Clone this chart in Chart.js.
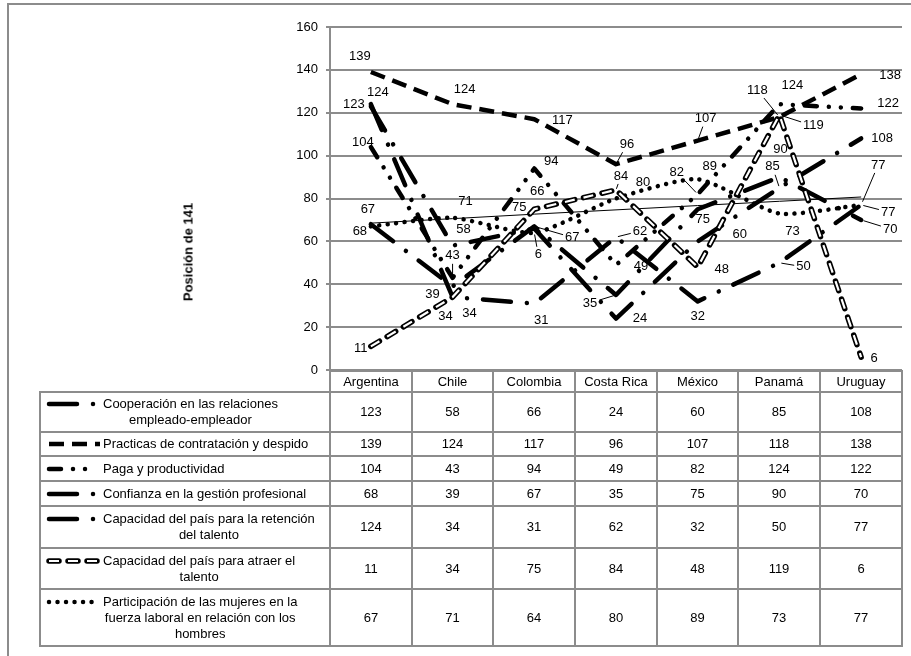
<!DOCTYPE html>
<html lang="es">
<head>
<meta charset="UTF-8" />
<title>Posición de 141</title>
<script src="https://cdn.jsdelivr.net/npm/chart.js@4.4.0/dist/chart.umd.min.js"></script>
<style>
  body {
    margin: 0;
    width: 911px;
    height: 656px;
    overflow: hidden;
    background: #fff;
    font-family: "Liberation Sans", Arial, sans-serif;
    font-size: 13px;
    color: #000;
  }
  .frame {
    position: absolute;
    left: 7px;
    top: 3px;
    width: 1000px;
    height: 1000px;
    border: 2px solid #8c8c8c;
  }
  #chart {
    position: absolute;
    left: 0;
    top: 0;
  }
  .ytitle {
    position: absolute;
    left: 188px;
    top: 252px;
    transform: translate(-50%, -50%) rotate(-90deg);
    font-weight: bold;
    white-space: nowrap;
  }
  #tbl {
    position: absolute;
    left: 39px;
    top: 370px;
    border-collapse: collapse;
    table-layout: fixed;
  }
  #tbl td {
    border: 2px solid #8c8c8c;
    text-align: center;
    vertical-align: middle;
    padding: 0;
    line-height: 16px;
    background: #fff;
  }
  #tbl td.blank {
    border-style: none;
    background: transparent;
  }
  #tbl td.key {
    text-align: left;
    padding-left: 5px;
  }
  .key-wrap {
    display: flex;
    align-items: flex-start;
  }
  .key-wrap canvas {
    flex: none;
  }
  .key-wrap span {
    display: inline-block;
    margin-left: 3px;
    text-align: center;
    white-space: pre-line;
  }
</style>
</head>
<body>
<div class="frame"></div>
<canvas id="chart" width="911" height="390"></canvas>
<div class="ytitle">Posición de 141</div>
<table id="tbl"></table>

<script>
  const categories = ['Argentina', 'Chile', 'Colombia', 'Costa Rica', 'México', 'Panamá', 'Uruguay'];
  const seriesNames = [
    'Cooperación en las relaciones\nempleado-empleador',
    'Practicas de contratación y despido',
    'Paga y productividad',
    'Confianza en la gestión profesional',
    'Capacidad del país para la retención\ndel talento',
    'Capacidad del país para atraer el\ntalento',
    'Participación de las mujeres en la\nfuerza laboral en relación con los\nhombres'
  ];
  const cooperacion = [123, 58, 66, 24, 60, 85, 108];
  const practicas = [139, 124, 117, 96, 107, 118, 138];
  const paga = [104, 43, 94, 49, 82, 124, 122];
  const confianza = [68, 39, 67, 35, 75, 90, 70];
  const retencion = [124, 34, 31, 62, 32, 50, 77];
  const atraer = [11, 34, 75, 84, 48, 119, 6];
  const mujeres = [67, 71, 64, 80, 89, 73, 77];
  // linea de tendencia
  const tendencia = [68.5, 70.6, 72.7, 74.7, 76.7, 78.7, 80.7];
  const yMin = 0, yMax = 160, yStep = 20;

  const seriesValues = [cooperacion, practicas, paga, confianza, retencion, atraer, mujeres];
  // etiqueta de Colombia en la serie de mujeres aparece como "6" en el original
  const mujeresText = ['67', '71', '6', '80', '89', '73', '77'];

  // estilos de linea (patron, extremo, grosor, largo de la muestra)
  const lineStyles = [
    { dash: [28, 16, 0.01, 16], cap: 'round', width: 4.5, sample: 47 },
    { dash: [15, 8], cap: 'butt', width: 4.5, sample: 53 },
    { dash: [12, 12, 0.01, 12, 0.01, 12], cap: 'round', width: 4.5, sample: 38 },
    { dash: [28, 16, 0.01, 16], cap: 'round', width: 4.5, sample: 47 },
    { dash: [28, 16, 0.01, 16], cap: 'round', width: 4.5, sample: 47 },
    { dash: [10, 9], cap: 'round', width: 5.5, inner: 2.2, sample: 51 },
    { dash: [0.01, 8.5], cap: 'round', width: 4.5, sample: 51 }
  ];
  const lineTension = [0, 0, 0, 0, 0, 0, 0.2];

  // desplazamiento de cada etiqueta respecto al punto [dx, dy, linea guia]
  const labelSpots = [
    [[-17, -2], [11, -16], [3, -37], [24, 0], [42, -7], [-7, -21, 1], [21, 0]],
    [[-11, -16], [12, -15], [28, 1], [11, -20, 1], [8, -22, 1], [-22, -27, 1], [29, 1]],
    [[-8, -5], [0, -22, 1], [17, -7], [25, 1], [-21, -22, 1], [13, -19], [27, -5]],
    [[-11, 7], [-20, 8], [38, 11, 1], [-26, 8, 1], [5, 10], [1, -28], [29, 9, 1]],
    [[7, -12], [-7, 19], [7, 17], [24, -6, 1], [0, 15], [24, 4, 1], [17, -40, 1]],
    [[-10, 2], [17, 16], [-15, -2], [5, -14, 1], [24, 2], [34, 11, 1], [13, 1]],
    [[-3, -17], [13, -16], [4, 22, 1], [27, -16], [12, -13], [13, 18], [27, 7, 1]]
  ];

  const FONT = '"Liberation Sans", Arial, sans-serif';

  const datasets = seriesValues.map((vals, i) => ({
    label: seriesNames[i].replace(/\n/g, ' '),
    data: vals,
    borderColor: '#000',
    borderWidth: lineStyles[i].width,
    borderDash: lineStyles[i].dash,
    borderCapStyle: lineStyles[i].cap,
    borderJoinStyle: 'round',
    pointRadius: 0,
    tension: lineTension[i],
    fill: false,
    order: i === 5 ? 1 : 2,
    labelSpots: labelSpots[i],
    labelText: i === 6 ? mujeresText : null
  }));

  // relleno blanco de los trazos huecos (atraer talento)
  datasets.push({
    label: 'atraer-relleno',
    data: atraer,
    borderColor: '#fff',
    borderWidth: lineStyles[5].inner,
    borderDash: lineStyles[5].dash,
    borderCapStyle: 'butt',
    pointRadius: 0,
    tension: lineTension[5],
    fill: false,
    order: 0
  });

  datasets.push({
    label: 'tendencia',
    data: tendencia,
    borderColor: '#000',
    borderWidth: 1,
    pointRadius: 0,
    tension: 0,
    fill: false,
    order: 3
  });

  const pointLabels = {
    id: 'pointLabels',
    afterDatasetsDraw(chart) {
      const ctx = chart.ctx;
      ctx.save();
      ctx.font = '13px ' + FONT;
      ctx.fillStyle = '#000';
      ctx.strokeStyle = '#000';
      ctx.lineWidth = 1;
      ctx.textAlign = 'center';
      ctx.textBaseline = 'middle';
      chart.data.datasets.forEach((ds, di) => {
        if (!ds.labelSpots) return;
        const meta = chart.getDatasetMeta(di);
        meta.data.forEach((pt, i) => {
          const spot = ds.labelSpots[i];
          const text = ds.labelText ? ds.labelText[i] : String(ds.data[i]);
          const lx = pt.x + spot[0];
          const ly = pt.y + spot[1];
          ctx.fillText(text, lx, ly);
          if (spot[2]) {
            const hw = ctx.measureText(text).width / 2 + 2;
            const hh = 8;
            const vx = pt.x - lx, vy = pt.y - ly;
            const t = Math.min(vx ? hw / Math.abs(vx) : Infinity, vy ? hh / Math.abs(vy) : Infinity);
            if (t < 1) {
              ctx.beginPath();
              ctx.moveTo(lx + vx * t, ly + vy * t);
              ctx.lineTo(pt.x - vx * 0.08, pt.y - vy * 0.08);
              ctx.stroke();
            }
          }
        });
      });
      ctx.restore();
    }
  };

  new Chart(document.getElementById('chart'), {
    type: 'line',
    data: { labels: categories, datasets: datasets },
    options: {
      responsive: false,
      animation: false,
      devicePixelRatio: 1,
      layout: { padding: { top: 27, right: 9, bottom: 20, left: 0 } },
      plugins: {
        legend: { display: false },
        tooltip: { enabled: false }
      },
      scales: {
        x: {
          type: 'category',
          display: false,
          offset: true,
          grid: { display: false }
        },
        y: {
          min: yMin,
          max: yMax,
          afterFit: function (scale) {
            scale.width = 330;
          },
          ticks: {
            stepSize: yStep,
            color: '#000',
            padding: 8,
            font: { size: 13, family: FONT }
          },
          grid: { color: '#8c8c8c', lineWidth: 2, tickLength: 4 },
          border: { color: '#8c8c8c', width: 2 }
        }
      }
    },
    plugins: [pointLabels]
  });

  // tabla de datos con muestras de linea
  function drawSample(cv, st) {
    const c = cv.getContext('2d');
    const x0 = 3, x1 = 3 + st.sample;
    c.strokeStyle = '#000';
    c.lineWidth = st.width;
    c.lineCap = st.cap;
    c.setLineDash(st.dash);
    c.beginPath();
    c.moveTo(x0, 8);
    c.lineTo(x1, 8);
    c.stroke();
    if (st.inner) {
      c.strokeStyle = '#fff';
      c.lineWidth = st.inner;
      c.lineCap = 'butt';
      c.beginPath();
      c.moveTo(x0, 8);
      c.lineTo(x1, 8);
      c.stroke();
    }
  }

  const tbl = document.getElementById('tbl');
  const colWidths = [290, 82, 81, 82, 82, 81, 82, 82];
  const rowHeights = [21, 40, 24, 25, 25, 42, 41, 57];
  const colgroup = document.createElement('colgroup');
  colWidths.forEach(w => {
    const col = document.createElement('col');
    col.style.width = w + 'px';
    colgroup.appendChild(col);
  });
  tbl.appendChild(colgroup);

  const head = document.createElement('tr');
  head.style.height = rowHeights[0] + 'px';
  const blank = document.createElement('td');
  blank.className = 'blank';
  head.appendChild(blank);
  categories.forEach(c => {
    const td = document.createElement('td');
    td.textContent = c;
    head.appendChild(td);
  });
  tbl.appendChild(head);

  seriesValues.forEach((vals, i) => {
    const tr = document.createElement('tr');
    tr.style.height = rowHeights[i + 1] + 'px';
    const key = document.createElement('td');
    key.className = 'key';
    const wrap = document.createElement('div');
    wrap.className = 'key-wrap';
    const cv = document.createElement('canvas');
    cv.width = 54;
    cv.height = 16;
    drawSample(cv, lineStyles[i]);
    const span = document.createElement('span');
    span.textContent = seriesNames[i];
    wrap.appendChild(cv);
    wrap.appendChild(span);
    key.appendChild(wrap);
    tr.appendChild(key);
    vals.forEach(v => {
      const td = document.createElement('td');
      td.textContent = v;
      tr.appendChild(td);
    });
    tbl.appendChild(tr);
  });
</script>
</body>
</html>
